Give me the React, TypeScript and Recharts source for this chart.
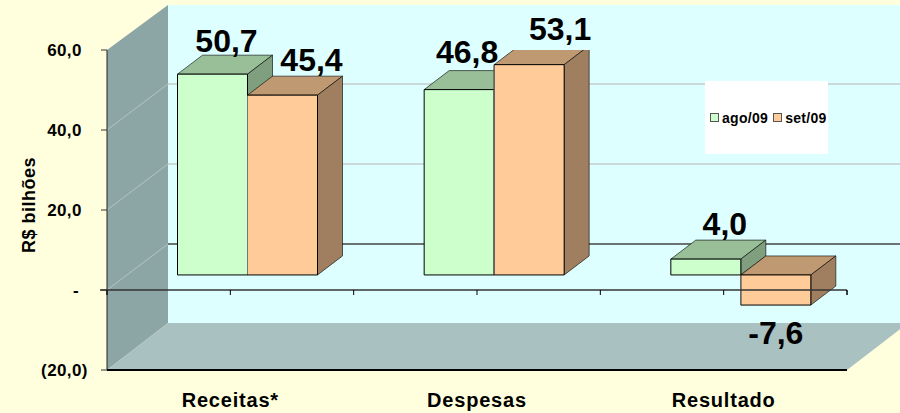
import { Bar, CartesianGrid, ComposedChart, LabelList, Legend, ReferenceLine, XAxis, YAxis } from "recharts";

const categories = ["Receitas*", "Despesas", "Resultado"];
const ago09 = [50.7, 46.8, 4.0];
const set09 = [45.4, 53.1, -7.6];
const yTicks = [-20, 0, 20, 40, 60];

const chartData = categories.map((name, i) => ({ name, ago09: ago09[i], set09: set09[i] }));

// caixa 3D do Excel: recuo da parede de fundo e profundidade das barras
const WALL_DX = 61;
const WALL_DY = 46;
const BAR_SHIFT = 17.5;
const BAR_DX = 25;
const BAR_DY = 19;

const fmtY = (v: number) => {
  if (v === 0) return "-";
  const s = Math.abs(v).toFixed(1).replace(".", ",");
  return v < 0 ? `(${s})` : s;
};

function Walls() {
  return (
    <svg width={900} height={413} style={{ position: "absolute", left: 0, top: 0 }}>
      <polygon points="168,5 910,5 910,323 168,323" fill="#DDFFFF" />
      <polygon points="107,50 168,5 168,323 107,370" fill="#8CA5A5" />
      <polygon points="107,370 168,323 908,323 847,370" fill="#A9C1C1" />
    </svg>
  );
}

// linha de grade: diagonal na parede lateral e horizontal no fundo
function gridLine(props: any) {
  const { x1, x2, y1 } = props;
  const isZero = Math.abs(y1 - 290) < 1;
  if (y1 > 330 || y1 < 60) return <g key={y1} />;
  return (
    <g key={y1}>
      <line x1={x1} y1={y1} x2={x1 + WALL_DX} y2={y1 - WALL_DY} stroke="#B8C4C4" strokeWidth={1} />
      <line x1={x1 + WALL_DX} y1={y1 - WALL_DY} x2={x2 + WALL_DX} y2={y1 - WALL_DY} stroke={isZero ? "#444" : "#C4CCCC"} strokeWidth={1.5} />
    </g>
  );
}

// eixo zero passa por cima das barras, com marcas a cada meia categoria
function zeroAxis(props: any) {
  const { x1, x2, y1 } = props;
  const step = (x2 - x1) / 6;
  return (
    <g stroke="#333">
      <line x1={x1 - 7} y1={y1} x2={x2} y2={y1} strokeWidth={1.5} />
      {[0, 1, 2, 3, 4, 5, 6].map((k) => (
        <line key={k} x1={x1 + k * step} y1={y1} x2={x1 + k * step} y2={y1 + 5} stroke="#000" strokeWidth={k % 6 === 0 ? 1.5 : 1} />
      ))}
    </g>
  );
}

// rótulos do eixo Y ficam centralizados entre si, o "-" mais à direita
function yTick(props: any) {
  const { y, payload } = props;
  return (
    <text
      x={payload.value === 0 ? 76 : 64.5}
      y={y + 6}
      textAnchor="middle"
      fontFamily="Liberation Sans"
      fontWeight="bold"
      fontSize={17}
      letterSpacing={0.4}
      fill="#000"
    >
      {fmtY(payload.value)}
    </text>
  );
}

function Box3D(props: any) {
  const { x, y, width, height, fill, topFill, sideFill, seam } = props;
  const left = x + BAR_SHIFT;
  const right = left + width;
  const top = Math.min(y, y + height);
  const bottom = Math.max(y, y + height);
  return (
    <g stroke="#000" strokeWidth={1} strokeLinejoin="round">
      <polygon points={`${left},${top} ${left + BAR_DX},${top - BAR_DY} ${right + BAR_DX},${top - BAR_DY} ${right},${top}`} fill={topFill} strokeOpacity={0.6} />
      <polygon points={`${right},${top} ${right + BAR_DX},${top - BAR_DY} ${right + BAR_DX},${bottom - BAR_DY} ${right},${bottom}`} fill={sideFill} strokeOpacity={0.6} />
      <rect x={left} y={top} width={width} height={bottom - top} fill={fill} />
      {seam && <line x1={left} y1={top + 0.5} x2={left} y2={bottom - 0.5} stroke="#777" />}
    </g>
  );
}

// deslocamento de cada rótulo em relação ao topo da face frontal
const labelNudge: Record<string, { dx: number; dy: number }> = {
  "50.7": { dx: 14, dy: -22 },
  "45.4": { dx: 29, dy: -24 },
  "46.8": { dx: 8, dy: -27 },
  "53.1": { dx: 31, dy: -25 },
  "4": { dx: 19, dy: -24 },
  "-7.6": { dx: 0, dy: 39 },
};

function valueLabel(props: any) {
  const { x, y, width, height, value } = props;
  const nudge = labelNudge[String(value)];
  const edge = value < 0 ? Math.max(y, y + height) : Math.min(y, y + height);
  return (
    <text
      x={x + BAR_SHIFT + width / 2 + nudge.dx}
      y={edge + nudge.dy}
      textAnchor="middle"
      fontFamily="Liberation Sans"
      fontWeight="bold"
      fontSize={32}
      fill="#000"
    >
      {value.toFixed(1).replace(".", ",")}
    </text>
  );
}

function LegendBox() {
  const item = (color: string, text: string) => (
    <span style={{ display: "inline-flex", alignItems: "center", marginRight: 5 }}>
      <span style={{ width: 7, height: 7, background: color, border: "1px solid #555", marginRight: 3 }} />
      {text}
    </span>
  );
  return (
    <div
      style={{
        width: 123,
        height: 73,
        background: "#fff",
        display: "flex",
        alignItems: "center",
        paddingLeft: 5,
        boxSizing: "border-box",
        fontFamily: "Liberation Sans",
        fontWeight: "bold",
        fontSize: 14,
        letterSpacing: 0.3,
        whiteSpace: "nowrap",
        color: "#000",
      }}
    >
      {item("#CCFFCC", "ago/09")}
      {item("#FFCC99", "set/09")}
    </div>
  );
}

export default function App() {
  return (
    <div style={{ position: "fixed", left: 0, top: 0, width: 900, height: 413, overflow: "hidden", background: "#FFFFDD" }}>
      <Walls />
      <div style={{ position: "absolute", left: 0, top: 0 }}>
        <ComposedChart
          width={900}
          height={413}
          data={chartData}
          barSize={70}
          barGap={0}
          margin={{ top: 50, right: 53, bottom: 0, left: 0 }}
        >
          <CartesianGrid yAxisId="axis" vertical={false} horizontal={gridLine} />
          <XAxis
            dataKey="name"
            height={43}
            tick={{ fontFamily: "Liberation Sans", fontWeight: "bold", fontSize: 20, letterSpacing: 0.8, fill: "#000" }}
            tickLine={false}
            axisLine={{ stroke: "#000", strokeWidth: 2 }}
            tickMargin={17}
          />
          <YAxis
            yAxisId="axis"
            type="number"
            domain={[-20, 60]}
            ticks={yTicks}
            allowDataOverflow
            width={107}
            interval={0}
            tick={yTick}
            tickLine={{ stroke: "#333" }}
            tickSize={6}
            axisLine={{ stroke: "#222" }}
            label={{ value: "R$ bilhões", angle: -90, position: "insideLeft", offset: 29, dy: -5, style: { fontFamily: "Liberation Sans", fontWeight: "bold", fontSize: 18, letterSpacing: 0.5, fill: "#000", textAnchor: "middle" } }}
          />
          <YAxis yAxisId="bars" type="number" domain={[-24, 56.8]} hide allowDataOverflow />
          <Bar yAxisId="bars" dataKey="ago09" name="ago/09" fill="#CCFFCC" isAnimationActive={false} shape={(p: any) => <Box3D {...p} topFill="#99BF99" sideFill="#7F9F7F" />}>
            <LabelList content={valueLabel} />
          </Bar>
          <Bar yAxisId="bars" dataKey="set09" name="set/09" fill="#FFCC99" isAnimationActive={false} shape={(p: any) => <Box3D {...p} topFill="#BF9972" sideFill="#A07F60" seam />}>
            <LabelList content={valueLabel} />
          </Bar>
          <ReferenceLine yAxisId="axis" y={0} shape={zeroAxis} />
          <Legend layout="horizontal" verticalAlign="middle" content={<LegendBox />} wrapperStyle={{ left: 705, top: 81, width: 123, height: 73 }} />
        </ComposedChart>
      </div>
    </div>
  );
}
